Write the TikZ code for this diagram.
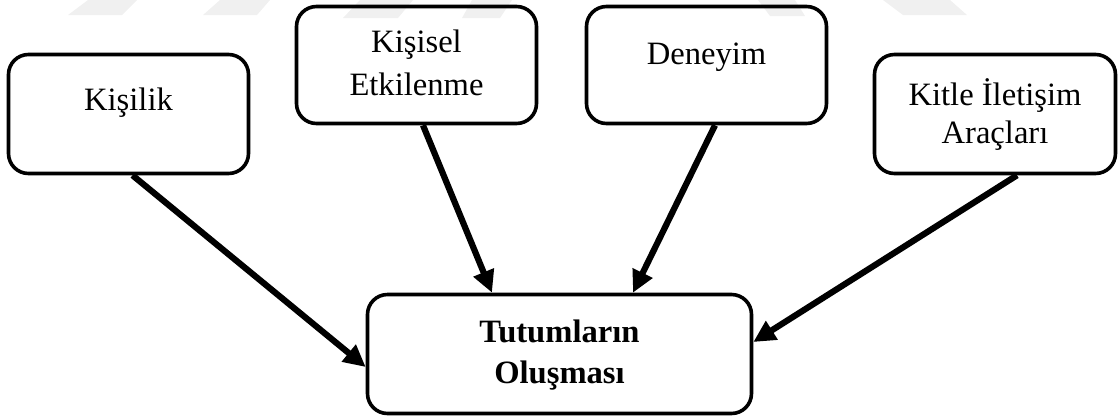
\documentclass[tikz,border=0pt]{standalone}
\usepackage{fontspec}
\setmainfont{Liberation Serif}
\usetikzlibrary{arrows.meta}

\begin{document}
\begin{tikzpicture}[x=0.5pt,y=-0.5pt,
  box/.style={draw=black, line width=1.8pt, rounded corners=10pt,
    rectangle, inner sep=0pt, minimum width=120pt, minimum height=59.5pt},
  lbl/.style={anchor=base, inner sep=0pt, font=\fontsize{16.3}{19}\selectfont},
  flow/.style={line width=3.1pt,
    -{Triangle[length=11pt,width=10.5pt]}},
  bgbar/.style={fill=black!6, draw=none}]

\useasboundingbox (0,0) rectangle (1120,419);

% faint background bars along the top edge
\fill[bgbar] (68,15) -- (122,15) -- (137,0) -- (88,0) -- cycle;
\fill[bgbar] (203,15) -- (257,15) -- (270,0) -- (220,0) -- cycle;
\fill[bgbar] (343,18) -- (398,18) -- (413,0) -- (360,0) -- cycle;
\fill[bgbar] (462,18) -- (500,18) -- (512,0) -- (472,0) -- cycle;
\fill[bgbar] (758,0) -- (795,0) -- (805,16) -- (770,16) -- cycle;
\fill[bgbar] (883,0) -- (950,0) -- (967,15) -- (903,15) -- cycle;

% source boxes
\node[box] (kis) at (128.5,114) {};
\node[box, minimum height=58.5pt] (ket) at (416.5,65) {};
\node[box, minimum height=58.5pt] (den) at (706.5,65) {};
\node[box, minimum width=120.5pt] (kit) at (995,114) {};

% target box
\node[box, minimum width=192pt] (tut) at (559.5,354) {};

% labels
\node[lbl] (kis-t) at (128.5,110) {Kişilik};
\node[lbl] (ket-t1) at (416.5,52) {Kişisel};
\node[lbl] (ket-t2) at (416.5,95) {Etkilenme};
\node[lbl] (den-t) at (706.5,64) {Deneyim};
\node[lbl] (kit-t1) at (995,105) {Kitle İletişim};
\node[lbl] (kit-t2) at (995,143) {Araçları};
\node[lbl, font=\fontsize{16.3}{19}\selectfont\bfseries] (tut-t1) at (559.5,342) {Tutumların};
\node[lbl, font=\fontsize{16.3}{19}\selectfont\bfseries] (tut-t2) at (559.5,383) {Oluşması};

% connectors
\draw[flow] ([xshift=2pt]kis.south) -- ([yshift=-6.5pt]tut.west);
\draw[flow] ([xshift=3.25pt]ket.south) -- ([xshift=-33.75pt]tut.north);
\draw[flow] ([xshift=4.25pt]den.south) -- ([xshift=36.75pt]tut.north);
\draw[flow] ([xshift=11pt]kit.south) -- ([yshift=6pt]tut.east);
\end{tikzpicture}
\end{document}
